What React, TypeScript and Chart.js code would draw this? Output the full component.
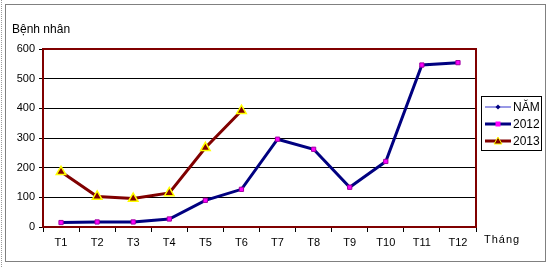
import React, { useEffect, useRef } from "react";
import { Chart, registerables } from "chart.js";

Chart.register(...registerables);

const categories = ["T1", "T2", "T3", "T4", "T5", "T6", "T7", "T8", "T9", "T10", "T11", "T12"];
const seriesNam: (number | null)[] = [null, null, null, null, null, null, null, null, null, null, null, null];
const series2012 = [15, 17, 17, 27, 90, 127, 296, 262, 134, 221, 546, 554];
const series2013 = [186, 103, 96, 115, 267, 392];
const yTicks = [0, 100, 200, 300, 400, 500, 600];
const yTitle = "Bệnh nhân";
const xTitle = "Tháng";

const FONT = "'Liberation Sans', Arial, sans-serif";

const decorPlugin = {
  id: "decor",
  beforeDraw(chart: any) {
    const ctx = chart.ctx;
    ctx.save();
    ctx.fillStyle = "#ffffff";
    ctx.fillRect(0, 0, chart.width, chart.height);
    // dotted left edge
    ctx.strokeStyle = "#9a9a9a";
    ctx.lineWidth = 1;
    ctx.setLineDash([1, 1]);
    ctx.beginPath();
    ctx.moveTo(1.5, 0);
    ctx.lineTo(1.5, 268);
    ctx.stroke();
    ctx.setLineDash([]);
    // outer frame
    ctx.strokeStyle = "#808080";
    ctx.strokeRect(5.5, 4.5, 540, 257);
    ctx.restore();
  },
  afterDatasetsDraw(chart: any) {
    const ctx = chart.ctx;
    const a = chart.chartArea;
    ctx.save();
    // top and right plot borders
    ctx.strokeStyle = "#800000";
    ctx.lineWidth = 2;
    ctx.beginPath();
    ctx.moveTo(a.left, a.top);
    ctx.lineTo(a.right, a.top);
    ctx.lineTo(a.right, a.bottom);
    ctx.stroke();
    // texts
    ctx.fillStyle = "#000000";
    ctx.font = "12px " + FONT;
    ctx.textBaseline = "middle";
    ctx.textAlign = "left";
    ctx.fillText(yTitle, 12, 30);
    ctx.font = "11px " + FONT;
    (ctx as any).letterSpacing = "1px";
    ctx.fillText(xTitle, 484, 240);
    (ctx as any).letterSpacing = "0px";
    // legend
    ctx.strokeStyle = "#000000";
    ctx.lineWidth = 1;
    ctx.strokeRect(481.5, 96.5, 60, 54);
    const ds = chart.data.datasets;
    const rows = [107, 124, 141];
    ds.forEach((d: any, i: number) => {
      const y = rows[i];
      ctx.strokeStyle = d.borderColor;
      ctx.lineWidth = i === 0 ? 1 : 3;
      ctx.beginPath();
      ctx.moveTo(485, y);
      ctx.lineTo(511, y);
      ctx.stroke();
      const cx = 498;
      if (i === 0) {
        ctx.fillStyle = d.pointBackgroundColor;
        ctx.beginPath();
        ctx.moveTo(cx, y - 2.5);
        ctx.lineTo(cx + 2.5, y);
        ctx.lineTo(cx, y + 2.5);
        ctx.lineTo(cx - 2.5, y);
        ctx.closePath();
        ctx.fill();
      } else if (i === 1) {
        ctx.fillStyle = d.pointBackgroundColor;
        ctx.fillRect(cx - 2.5, y - 2.5, 5, 5);
      } else {
        ctx.fillStyle = d.pointBackgroundColor;
        ctx.strokeStyle = d.pointBorderColor;
        ctx.lineWidth = 1;
        ctx.beginPath();
        ctx.moveTo(cx, y - 4);
        ctx.lineTo(cx + 4, y + 3);
        ctx.lineTo(cx - 4, y + 3);
        ctx.closePath();
        ctx.fill();
        ctx.stroke();
      }
      ctx.fillStyle = "#000000";
      ctx.font = "12px " + FONT;
      ctx.fillText(d.label, 513, y + 1);
    });
    ctx.restore();
  },
};

export default function App() {
  const ref = useRef<HTMLCanvasElement | null>(null);
  useEffect(() => {
    if (!ref.current) return;
    const chart = new Chart(ref.current, {
      type: "line",
      data: {
        labels: categories,
        datasets: [
          {
            label: "NĂM",
            data: seriesNam,
            borderColor: "#3333cc",
            backgroundColor: "#000080",
            pointBackgroundColor: "#000080",
            borderWidth: 1,
            pointRadius: 0,
          },
          {
            label: "2012",
            data: series2012,
            borderColor: "#000080",
            backgroundColor: "#ff00ff",
            borderWidth: 3,
            pointStyle: "rect",
            pointRadius: 3,
            pointBackgroundColor: "#ff00ff",
            pointBorderColor: "#a000a0",
            pointBorderWidth: 1,
            tension: 0,
          },
          {
            label: "2013",
            data: series2013,
            borderColor: "#800000",
            backgroundColor: "#800000",
            borderWidth: 3,
            pointStyle: "triangle",
            pointRadius: 5.5,
            pointBackgroundColor: "#800000",
            pointBorderColor: "#ffff00",
            pointBorderWidth: 1.5,
            tension: 0,
          },
        ],
      },
      options: {
        animation: false,
        responsive: false,
        maintainAspectRatio: false,
        layout: { padding: { left: 5, top: 49, right: 74, bottom: 0 } },
        plugins: { legend: { display: false }, tooltip: { enabled: false }, title: { display: false } },
        scales: {
          x: {
            type: "category",
            offset: true,
            border: { color: "#800000", width: 2 },
            grid: {
              offset: true,
              drawOnChartArea: false,
              drawTicks: true,
              tickLength: 5,
              tickColor: "#000000",
            },
            ticks: { color: "#000000", font: { family: FONT, size: 11 }, padding: 4, maxRotation: 0, autoSkip: false },
            afterFit(scale: any) {
              scale.height = 41;
            },
          },
          y: {
            min: 0,
            max: 600,
            border: { color: "#800000", width: 2 },
            grid: {
              color: (c: any) => (c.tick && c.tick.value > 0 && c.tick.value < 600 ? "#000000" : "rgba(0,0,0,0)"),
              lineWidth: 1,
              drawTicks: true,
              tickLength: 4,
              tickColor: "#000000",
            },
            afterBuildTicks(scale: any) {
              scale.ticks = yTicks.map((v) => ({ value: v }));
            },
            ticks: { color: "#000000", font: { family: FONT, size: 11 }, padding: 4 },
            afterFit(scale: any) {
              scale.width = 38;
            },
          },
        },
      },
      plugins: [decorPlugin],
    });
    return () => chart.destroy();
  }, []);
  return (
    <div style={{ position: "fixed", left: 0, top: 0, width: 550, height: 268 }}>
      <canvas ref={ref} width={550} height={268} style={{ display: "block" }} />
    </div>
  );
}
